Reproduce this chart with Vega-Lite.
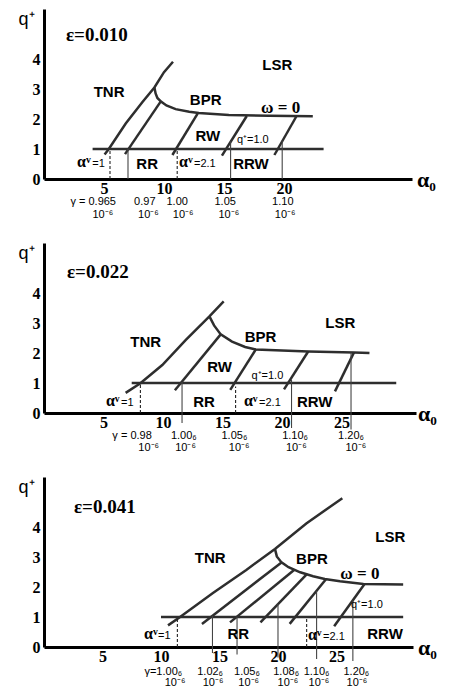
{
  "$schema": "https://vega.github.io/schema/vega-lite/v6.json",
  "background": "white",
  "padding": {"left": 17, "top": 9, "right": 0, "bottom": 0},
  "spacing": 64,
  "bounds": "flush",
  "config": {
    "view": {"stroke": null},
    "axis": {
      "grid": false, "ticks": false, "domainColor": "#000", "domainWidth": 3,
      "labelFont": "Liberation Serif", "labelFontWeight": "bold", "labelFontSize": 16,
      "labelColor": "#000", "labelFlush": false, "labelOverlap": false
    },
    "axisX": {
      "labelPadding": 1, "titleFont": "Liberation Serif", "titleFontSize": 22,
      "titleFontWeight": "bold", "titleColor": "#000", "titleAngle": 0,
      "titleAlign": "center", "titleBaseline": "middle", "titleY": 0
    },
    "axisY": {
      "labelPadding": 4, "titleFont": "Liberation Sans", "titleFontSize": 18,
      "titleFontWeight": "normal", "titleColor": "#000", "titleAngle": 0,
      "titleAlign": "center", "titleBaseline": "middle", "titleX": -18, "titleY": 10
    },
    "line": {"color": "#2e2e2e", "strokeWidth": 2.5},
    "rule": {"color": "#444", "strokeWidth": 1.1}
  },
  "datasets": {
    "curves": [
      {"p": 1, "id": "tnr", "a": 5.05, "q": 0.82},
      {"p": 1, "id": "tnr", "a": 5.4, "q": 1.0},
      {"p": 1, "id": "tnr", "a": 6.81, "q": 1.85},
      {"p": 1, "id": "tnr", "a": 8.19, "q": 2.56},
      {"p": 1, "id": "tnr", "a": 9.2, "q": 3.05},
      {"p": 1, "id": "tnr", "a": 10.0, "q": 3.56},
      {"p": 1, "id": "tnr", "a": 10.75, "q": 3.91},
      {"p": 1, "id": "bpr", "a": 9.2, "q": 3.05},
      {"p": 1, "id": "bpr", "a": 9.3, "q": 2.85},
      {"p": 1, "id": "bpr", "a": 9.45, "q": 2.7},
      {"p": 1, "id": "bpr", "a": 9.75, "q": 2.58},
      {"p": 1, "id": "bpr", "a": 10.2, "q": 2.45},
      {"p": 1, "id": "bpr", "a": 10.97, "q": 2.33},
      {"p": 1, "id": "bpr", "a": 12.1, "q": 2.24},
      {"p": 1, "id": "bpr", "a": 12.9, "q": 2.2},
      {"p": 1, "id": "bpr", "a": 15.4, "q": 2.13},
      {"p": 1, "id": "bpr", "a": 18.75, "q": 2.11},
      {"p": 1, "id": "bpr", "a": 22.4, "q": 2.09},
      {"p": 1, "id": "d2", "a": 6.75, "q": 0.83},
      {"p": 1, "id": "d2", "a": 9.72, "q": 2.58},
      {"p": 1, "id": "d3", "a": 10.7, "q": 0.8},
      {"p": 1, "id": "d3", "a": 12.8, "q": 2.18},
      {"p": 1, "id": "d4", "a": 14.83, "q": 0.78},
      {"p": 1, "id": "d4", "a": 16.9, "q": 2.1},
      {"p": 1, "id": "d5", "a": 19.2, "q": 0.8},
      {"p": 1, "id": "d5", "a": 21.05, "q": 2.1},
      {"p": 1, "id": "q1", "a": 4.05, "q": 1.0},
      {"p": 1, "id": "q1", "a": 23.3, "q": 1.0},

      {"p": 2, "id": "tnr", "a": 6.86, "q": 0.67},
      {"p": 2, "id": "tnr", "a": 8.1, "q": 0.99},
      {"p": 2, "id": "tnr", "a": 9.94, "q": 1.6},
      {"p": 2, "id": "tnr", "a": 11.9, "q": 2.43},
      {"p": 2, "id": "tnr", "a": 13.9, "q": 3.22},
      {"p": 2, "id": "tnr", "a": 15.1, "q": 3.72},
      {"p": 2, "id": "bpr", "a": 13.9, "q": 3.22},
      {"p": 2, "id": "bpr", "a": 14.29, "q": 2.92},
      {"p": 2, "id": "bpr", "a": 14.85, "q": 2.62},
      {"p": 2, "id": "bpr", "a": 15.8, "q": 2.38},
      {"p": 2, "id": "bpr", "a": 16.9, "q": 2.2},
      {"p": 2, "id": "bpr", "a": 17.8, "q": 2.12},
      {"p": 2, "id": "bpr", "a": 20.0, "q": 2.08},
      {"p": 2, "id": "bpr", "a": 22.2, "q": 2.05},
      {"p": 2, "id": "bpr", "a": 26.05, "q": 2.02},
      {"p": 2, "id": "bpr", "a": 27.35, "q": 2.0},
      {"p": 2, "id": "d2", "a": 11.0, "q": 0.76},
      {"p": 2, "id": "d2", "a": 14.85, "q": 2.62},
      {"p": 2, "id": "d3", "a": 15.65, "q": 0.77},
      {"p": 2, "id": "d3", "a": 17.8, "q": 2.12},
      {"p": 2, "id": "d4", "a": 20.17, "q": 0.79},
      {"p": 2, "id": "d4", "a": 22.2, "q": 2.05},
      {"p": 2, "id": "d5", "a": 24.45, "q": 0.72},
      {"p": 2, "id": "d5", "a": 26.05, "q": 2.02},
      {"p": 2, "id": "q1", "a": 7.37, "q": 1.0},
      {"p": 2, "id": "q1", "a": 29.6, "q": 1.0},

      {"p": 3, "id": "tnr", "a": 10.6, "q": 0.72},
      {"p": 3, "id": "tnr", "a": 11.6, "q": 0.99},
      {"p": 3, "id": "tnr", "a": 14.44, "q": 1.8},
      {"p": 3, "id": "tnr", "a": 17.29, "q": 2.57},
      {"p": 3, "id": "tnr", "a": 19.74, "q": 3.27},
      {"p": 3, "id": "tnr", "a": 22.42, "q": 4.12},
      {"p": 3, "id": "tnr", "a": 25.5, "q": 4.96},
      {"p": 3, "id": "bpr", "a": 19.74, "q": 3.27},
      {"p": 3, "id": "bpr", "a": 19.9, "q": 3.02},
      {"p": 3, "id": "bpr", "a": 20.3, "q": 2.82},
      {"p": 3, "id": "bpr", "a": 20.9, "q": 2.66},
      {"p": 3, "id": "bpr", "a": 21.9, "q": 2.49},
      {"p": 3, "id": "bpr", "a": 23.0, "q": 2.36},
      {"p": 3, "id": "bpr", "a": 24.0, "q": 2.27},
      {"p": 3, "id": "bpr", "a": 25.3, "q": 2.19},
      {"p": 3, "id": "bpr", "a": 27.3, "q": 2.1},
      {"p": 3, "id": "bpr", "a": 30.7, "q": 2.08},
      {"p": 3, "id": "d2", "a": 13.5, "q": 0.77},
      {"p": 3, "id": "d2", "a": 20.3, "q": 2.82},
      {"p": 3, "id": "d3", "a": 15.9, "q": 0.82},
      {"p": 3, "id": "d3", "a": 21.4, "q": 2.575},
      {"p": 3, "id": "d4", "a": 18.5, "q": 0.82},
      {"p": 3, "id": "d4", "a": 22.45, "q": 2.42},
      {"p": 3, "id": "d5", "a": 21.0, "q": 0.77},
      {"p": 3, "id": "d5", "a": 24.1, "q": 2.26},
      {"p": 3, "id": "d6", "a": 24.8, "q": 0.69},
      {"p": 3, "id": "d6", "a": 27.4, "q": 2.1},
      {"p": 3, "id": "q1", "a": 10.0, "q": 1.0},
      {"p": 3, "id": "q1", "a": 30.7, "q": 1.0}
    ],
    "guides": [
      {"p": 1, "a": 5.5, "q": 0, "q1": 1.0, "k": "dash"},
      {"p": 1, "a": 7.0, "q": 0, "q1": 1.0, "k": "solid"},
      {"p": 1, "a": 11.1, "q": 0, "q1": 1.0, "k": "dash"},
      {"p": 1, "a": 15.55, "q": 0, "q1": 1.26, "k": "solid"},
      {"p": 1, "a": 19.85, "q": 0, "q1": 1.28, "k": "solid"},
      {"p": 2, "a": 8.1, "q": 0, "q1": 1.0, "k": "dash"},
      {"p": 2, "a": 11.6, "q": -0.33, "q1": 1.03, "k": "solid"},
      {"p": 2, "a": 16.1, "q": 0, "q1": 0.88, "k": "dash"},
      {"p": 2, "a": 20.8, "q": -0.5, "q1": 1.1, "k": "solid"},
      {"p": 2, "a": 25.8, "q": -0.55, "q1": 2.02, "k": "solid"},
      {"p": 3, "a": 11.4, "q": 0, "q1": 1.0, "k": "dash"},
      {"p": 3, "a": 14.4, "q": -0.2, "q1": 1.04, "k": "solid"},
      {"p": 3, "a": 16.5, "q": -0.25, "q1": 1.01, "k": "solid"},
      {"p": 3, "a": 20.0, "q": -0.35, "q1": 1.43, "k": "solid"},
      {"p": 3, "a": 22.45, "q": 0, "q1": 0.95, "k": "dash"},
      {"p": 3, "a": 23.3, "q": -0.4, "q1": 1.87, "k": "solid"},
      {"p": 3, "a": 26.4, "q": -0.47, "q1": 1.55, "k": "solid"}
    ],
    "labels": [
      {"p": 1, "a": 1.83, "q": 4.8, "t": "ε=0.010", "k": "eps"},
      {"p": 1, "a": 5.42, "q": 2.89, "t": "TNR", "k": "region"},
      {"p": 1, "a": 19.44, "q": 3.8, "t": "LSR", "k": "region"},
      {"p": 1, "a": 13.47, "q": 2.65, "t": "BPR", "k": "region"},
      {"p": 1, "a": 13.65, "q": 1.45, "t": "RW", "k": "region"},
      {"p": 1, "a": 8.6, "q": 0.5, "t": "RR", "k": "region"},
      {"p": 1, "a": 17.25, "q": 0.5, "t": "RRW", "k": "region"},
      {"p": 1, "a": 19.72, "q": 2.36, "t": "ω = 0", "k": "omega"},
      {"p": 1, "a": 17.4, "q": 1.3, "t": "q⁺=1.0", "k": "small"},
      {"p": 1, "a": 2.75, "q": 0.39, "t": "αᵛ", "k": "alpha"},
      {"p": 1, "a": 4.03, "q": 0.39, "t": "=1", "k": "eq"},
      {"p": 1, "a": 11.25, "q": 0.39, "t": "αᵛ", "k": "alpha"},
      {"p": 1, "a": 12.5, "q": 0.39, "t": "=2.1", "k": "eq"},
      {"p": 1, "a": 4.1, "q": -0.77, "t": "γ = 0.965", "k": "gamma"},
      {"p": 1, "a": 8.4, "q": -0.77, "t": "0.97", "k": "gamma"},
      {"p": 1, "a": 11.1, "q": -0.77, "t": "1.00", "k": "gamma"},
      {"p": 1, "a": 15.1, "q": -0.77, "t": "1.05", "k": "gamma"},
      {"p": 1, "a": 19.9, "q": -0.77, "t": "1.10", "k": "gamma"},
      {"p": 1, "a": 4.9, "q": -1.2, "t": "10⁻⁶", "k": "gamma"},
      {"p": 1, "a": 8.7, "q": -1.2, "t": "10⁻⁶", "k": "gamma"},
      {"p": 1, "a": 11.6, "q": -1.2, "t": "10⁻⁶", "k": "gamma"},
      {"p": 1, "a": 15.4, "q": -1.2, "t": "10⁻⁶", "k": "gamma"},
      {"p": 1, "a": 20.1, "q": -1.2, "t": "10⁻⁶", "k": "gamma"},

      {"p": 2, "a": 1.93, "q": 4.71, "t": "ε=0.022", "k": "eps"},
      {"p": 2, "a": 8.55, "q": 2.38, "t": "TNR", "k": "region"},
      {"p": 2, "a": 18.2, "q": 2.54, "t": "BPR", "k": "region"},
      {"p": 2, "a": 24.9, "q": 2.99, "t": "LSR", "k": "region"},
      {"p": 2, "a": 14.76, "q": 1.52, "t": "RW", "k": "region"},
      {"p": 2, "a": 13.45, "q": 0.38, "t": "RR", "k": "region"},
      {"p": 2, "a": 22.75, "q": 0.38, "t": "RRW", "k": "region"},
      {"p": 2, "a": 18.77, "q": 1.23, "t": "q⁺=1.0", "k": "small"},
      {"p": 2, "a": 5.2, "q": 0.23, "t": "αᵛ", "k": "alpha"},
      {"p": 2, "a": 6.47, "q": 0.23, "t": "=1", "k": "eq"},
      {"p": 2, "a": 16.8, "q": 0.23, "t": "αᵛ", "k": "alpha"},
      {"p": 2, "a": 18.07, "q": 0.23, "t": "=2.1", "k": "eq"},
      {"p": 2, "a": 7.4, "q": -0.77, "t": "γ = 0.98", "k": "gamma"},
      {"p": 2, "a": 11.75, "q": -0.77, "t": "1.00₆", "k": "gamma"},
      {"p": 2, "a": 16.0, "q": -0.77, "t": "1.05₆", "k": "gamma"},
      {"p": 2, "a": 21.1, "q": -0.77, "t": "1.10₆", "k": "gamma"},
      {"p": 2, "a": 25.8, "q": -0.77, "t": "1.20₆", "k": "gamma"},
      {"p": 2, "a": 8.8, "q": -1.18, "t": "10⁻⁶", "k": "gamma"},
      {"p": 2, "a": 11.9, "q": -1.18, "t": "10⁻⁶", "k": "gamma"},
      {"p": 2, "a": 16.4, "q": -1.18, "t": "10⁻⁶", "k": "gamma"},
      {"p": 2, "a": 21.2, "q": -1.18, "t": "10⁻⁶", "k": "gamma"},
      {"p": 2, "a": 26.2, "q": -1.18, "t": "10⁻⁶", "k": "gamma"},

      {"p": 3, "a": 2.56, "q": 4.67, "t": "ε=0.041", "k": "eps"},
      {"p": 3, "a": 14.2, "q": 2.96, "t": "TNR", "k": "region"},
      {"p": 3, "a": 22.9, "q": 2.93, "t": "BPR", "k": "region"},
      {"p": 3, "a": 29.6, "q": 3.66, "t": "LSR", "k": "region"},
      {"p": 3, "a": 16.6, "q": 0.43, "t": "RR", "k": "region"},
      {"p": 3, "a": 29.15, "q": 0.43, "t": "RRW", "k": "region"},
      {"p": 3, "a": 27.0, "q": 2.43, "t": "ω = 0", "k": "omega"},
      {"p": 3, "a": 27.6, "q": 1.41, "t": "q⁺=1.0", "k": "small"},
      {"p": 3, "a": 8.55, "q": 0.27, "t": "αᵛ", "k": "alpha"},
      {"p": 3, "a": 9.74, "q": 0.27, "t": "=1", "k": "eq"},
      {"p": 3, "a": 22.56, "q": 0.22, "t": "αᵛ", "k": "alpha"},
      {"p": 3, "a": 23.85, "q": 0.22, "t": "=2.1", "k": "eq"},
      {"p": 3, "a": 10.2, "q": -0.82, "t": "γ=1.00₆", "k": "gamma"},
      {"p": 3, "a": 14.2, "q": -0.82, "t": "1.02₆", "k": "gamma"},
      {"p": 3, "a": 17.35, "q": -0.82, "t": "1.05₆", "k": "gamma"},
      {"p": 3, "a": 20.7, "q": -0.82, "t": "1.08₆", "k": "gamma"},
      {"p": 3, "a": 23.3, "q": -0.82, "t": "1.10₆", "k": "gamma"},
      {"p": 3, "a": 26.7, "q": -0.82, "t": "1.20₆", "k": "gamma"},
      {"p": 3, "a": 11.2, "q": -1.21, "t": "10⁻⁶", "k": "gamma"},
      {"p": 3, "a": 14.45, "q": -1.21, "t": "10⁻⁶", "k": "gamma"},
      {"p": 3, "a": 17.5, "q": -1.21, "t": "10⁻⁶", "k": "gamma"},
      {"p": 3, "a": 20.85, "q": -1.21, "t": "10⁻⁶", "k": "gamma"},
      {"p": 3, "a": 23.5, "q": -1.21, "t": "10⁻⁶", "k": "gamma"},
      {"p": 3, "a": 26.75, "q": -1.21, "t": "10⁻⁶", "k": "gamma"}
    ]
  },
  "vconcat": [
    {
      "width": 368, "height": 170,
      "encoding": {
        "x": {"field": "a", "type": "quantitative", "scale": {"domain": [0, 30.667], "nice": false, "zero": false}, "axis": {"values": [5, 10, 15, 20], "title": "α₀", "titleX": 382}},
        "y": {"field": "q", "type": "quantitative", "scale": {"domain": [0, 5.667], "nice": false, "zero": false}, "axis": {"values": [0, 1, 2, 3, 4], "title": "q⁺"}}
      },
      "layer": [
        {"data": {"name": "curves"}, "transform": [{"filter": "datum.p == 1"}],
         "mark": {"type": "line"}, "encoding": {"detail": {"field": "id"}}},
        {"data": {"name": "guides"}, "transform": [{"filter": "datum.p == 1 && datum.k == 'solid'"}],
         "mark": {"type": "rule"}, "encoding": {"y2": {"field": "q1"}}},
        {"data": {"name": "guides"}, "transform": [{"filter": "datum.p == 1 && datum.k == 'dash'"}],
         "mark": {"type": "rule", "strokeDash": [3, 2], "color": "#222"}, "encoding": {"y2": {"field": "q1"}}},
        {"data": {"name": "labels"}, "transform": [{"filter": "datum.p == 1 && datum.k == 'region'"}],
         "mark": {"type": "text", "font": "Liberation Sans", "fontWeight": "bold", "fontSize": 15, "color": "#000", "baseline": "middle"},
         "encoding": {"text": {"field": "t"}}},
        {"data": {"name": "labels"}, "transform": [{"filter": "datum.p == 1 && datum.k == 'eps'"}],
         "mark": {"type": "text", "font": "Liberation Serif", "fontWeight": "bold", "fontSize": 19, "color": "#000", "align": "left", "baseline": "middle"},
         "encoding": {"text": {"field": "t"}}},
        {"data": {"name": "labels"}, "transform": [{"filter": "datum.p == 1 && datum.k == 'omega'"}],
         "mark": {"type": "text", "font": "Liberation Serif", "fontWeight": "bold", "fontSize": 17, "color": "#000", "baseline": "middle"},
         "encoding": {"text": {"field": "t"}}},
        {"data": {"name": "labels"}, "transform": [{"filter": "datum.p == 1 && datum.k == 'small'"}],
         "mark": {"type": "text", "font": "Liberation Sans", "fontSize": 11, "color": "#000", "baseline": "middle"},
         "encoding": {"text": {"field": "t"}}},
        {"data": {"name": "labels"}, "transform": [{"filter": "datum.p == 1 && datum.k == 'alpha'"}],
         "mark": {"type": "text", "font": "Liberation Serif", "fontWeight": "bold", "fontSize": 16, "color": "#000", "align": "left", "baseline": "alphabetic"},
         "encoding": {"text": {"field": "t"}}},
        {"data": {"name": "labels"}, "transform": [{"filter": "datum.p == 1 && datum.k == 'eq'"}],
         "mark": {"type": "text", "font": "Liberation Sans", "fontSize": 11, "color": "#000", "align": "left", "baseline": "alphabetic"},
         "encoding": {"text": {"field": "t"}}},
        {"data": {"name": "labels"}, "transform": [{"filter": "datum.p == 1 && datum.k == 'gamma'"}],
         "mark": {"type": "text", "font": "Liberation Sans", "fontSize": 11, "color": "#000", "baseline": "middle"},
         "encoding": {"text": {"field": "t"}}}
      ]
    },
    {
      "width": 372, "height": 170,
      "encoding": {
        "x": {"field": "a", "type": "quantitative", "scale": {"domain": [0, 31.26], "nice": false, "zero": false}, "axis": {"values": [5, 10, 15, 20, 25], "title": "α₀", "titleX": 383}},
        "y": {"field": "q", "type": "quantitative", "scale": {"domain": [0, 5.667], "nice": false, "zero": false}, "axis": {"values": [0, 1, 2, 3, 4], "title": "q⁺"}}
      },
      "layer": [
        {"data": {"name": "curves"}, "transform": [{"filter": "datum.p == 2"}],
         "mark": {"type": "line"}, "encoding": {"detail": {"field": "id"}}},
        {"data": {"name": "guides"}, "transform": [{"filter": "datum.p == 2 && datum.k == 'solid'"}],
         "mark": {"type": "rule"}, "encoding": {"y2": {"field": "q1"}}},
        {"data": {"name": "guides"}, "transform": [{"filter": "datum.p == 2 && datum.k == 'dash'"}],
         "mark": {"type": "rule", "strokeDash": [3, 2], "color": "#222"}, "encoding": {"y2": {"field": "q1"}}},
        {"data": {"name": "labels"}, "transform": [{"filter": "datum.p == 2 && datum.k == 'region'"}],
         "mark": {"type": "text", "font": "Liberation Sans", "fontWeight": "bold", "fontSize": 15, "color": "#000", "baseline": "middle"},
         "encoding": {"text": {"field": "t"}}},
        {"data": {"name": "labels"}, "transform": [{"filter": "datum.p == 2 && datum.k == 'eps'"}],
         "mark": {"type": "text", "font": "Liberation Serif", "fontWeight": "bold", "fontSize": 19, "color": "#000", "align": "left", "baseline": "middle"},
         "encoding": {"text": {"field": "t"}}},
        {"data": {"name": "labels"}, "transform": [{"filter": "datum.p == 2 && datum.k == 'small'"}],
         "mark": {"type": "text", "font": "Liberation Sans", "fontSize": 11, "color": "#000", "baseline": "middle"},
         "encoding": {"text": {"field": "t"}}},
        {"data": {"name": "labels"}, "transform": [{"filter": "datum.p == 2 && datum.k == 'alpha'"}],
         "mark": {"type": "text", "font": "Liberation Serif", "fontWeight": "bold", "fontSize": 16, "color": "#000", "align": "left", "baseline": "alphabetic"},
         "encoding": {"text": {"field": "t"}}},
        {"data": {"name": "labels"}, "transform": [{"filter": "datum.p == 2 && datum.k == 'eq'"}],
         "mark": {"type": "text", "font": "Liberation Sans", "fontSize": 11, "color": "#000", "align": "left", "baseline": "alphabetic"},
         "encoding": {"text": {"field": "t"}}},
        {"data": {"name": "labels"}, "transform": [{"filter": "datum.p == 2 && datum.k == 'gamma'"}],
         "mark": {"type": "text", "font": "Liberation Sans", "fontSize": 11, "color": "#000", "baseline": "middle"},
         "encoding": {"text": {"field": "t"}}}
      ]
    },
    {
      "width": 369, "height": 170,
      "encoding": {
        "x": {"field": "a", "type": "quantitative", "scale": {"domain": [0, 31.54], "nice": false, "zero": false}, "axis": {"values": [5, 10, 15, 20, 25], "title": "α₀", "titleX": 383}},
        "y": {"field": "q", "type": "quantitative", "scale": {"domain": [0, 5.667], "nice": false, "zero": false}, "axis": {"values": [0, 1, 2, 3, 4], "title": "q⁺"}}
      },
      "layer": [
        {"data": {"name": "curves"}, "transform": [{"filter": "datum.p == 3"}],
         "mark": {"type": "line"}, "encoding": {"detail": {"field": "id"}}},
        {"data": {"name": "guides"}, "transform": [{"filter": "datum.p == 3 && datum.k == 'solid'"}],
         "mark": {"type": "rule"}, "encoding": {"y2": {"field": "q1"}}},
        {"data": {"name": "guides"}, "transform": [{"filter": "datum.p == 3 && datum.k == 'dash'"}],
         "mark": {"type": "rule", "strokeDash": [3, 2], "color": "#222"}, "encoding": {"y2": {"field": "q1"}}},
        {"data": {"name": "labels"}, "transform": [{"filter": "datum.p == 3 && datum.k == 'region'"}],
         "mark": {"type": "text", "font": "Liberation Sans", "fontWeight": "bold", "fontSize": 15, "color": "#000", "baseline": "middle"},
         "encoding": {"text": {"field": "t"}}},
        {"data": {"name": "labels"}, "transform": [{"filter": "datum.p == 3 && datum.k == 'eps'"}],
         "mark": {"type": "text", "font": "Liberation Serif", "fontWeight": "bold", "fontSize": 19, "color": "#000", "align": "left", "baseline": "middle"},
         "encoding": {"text": {"field": "t"}}},
        {"data": {"name": "labels"}, "transform": [{"filter": "datum.p == 3 && datum.k == 'omega'"}],
         "mark": {"type": "text", "font": "Liberation Serif", "fontWeight": "bold", "fontSize": 17, "color": "#000", "baseline": "middle"},
         "encoding": {"text": {"field": "t"}}},
        {"data": {"name": "labels"}, "transform": [{"filter": "datum.p == 3 && datum.k == 'small'"}],
         "mark": {"type": "text", "font": "Liberation Sans", "fontSize": 11, "color": "#000", "baseline": "middle"},
         "encoding": {"text": {"field": "t"}}},
        {"data": {"name": "labels"}, "transform": [{"filter": "datum.p == 3 && datum.k == 'alpha'"}],
         "mark": {"type": "text", "font": "Liberation Serif", "fontWeight": "bold", "fontSize": 16, "color": "#000", "align": "left", "baseline": "alphabetic"},
         "encoding": {"text": {"field": "t"}}},
        {"data": {"name": "labels"}, "transform": [{"filter": "datum.p == 3 && datum.k == 'eq'"}],
         "mark": {"type": "text", "font": "Liberation Sans", "fontSize": 11, "color": "#000", "align": "left", "baseline": "alphabetic"},
         "encoding": {"text": {"field": "t"}}},
        {"data": {"name": "labels"}, "transform": [{"filter": "datum.p == 3 && datum.k == 'gamma'"}],
         "mark": {"type": "text", "font": "Liberation Sans", "fontSize": 11, "color": "#000", "baseline": "middle"},
         "encoding": {"text": {"field": "t"}}}
      ]
    }
  ]
}
